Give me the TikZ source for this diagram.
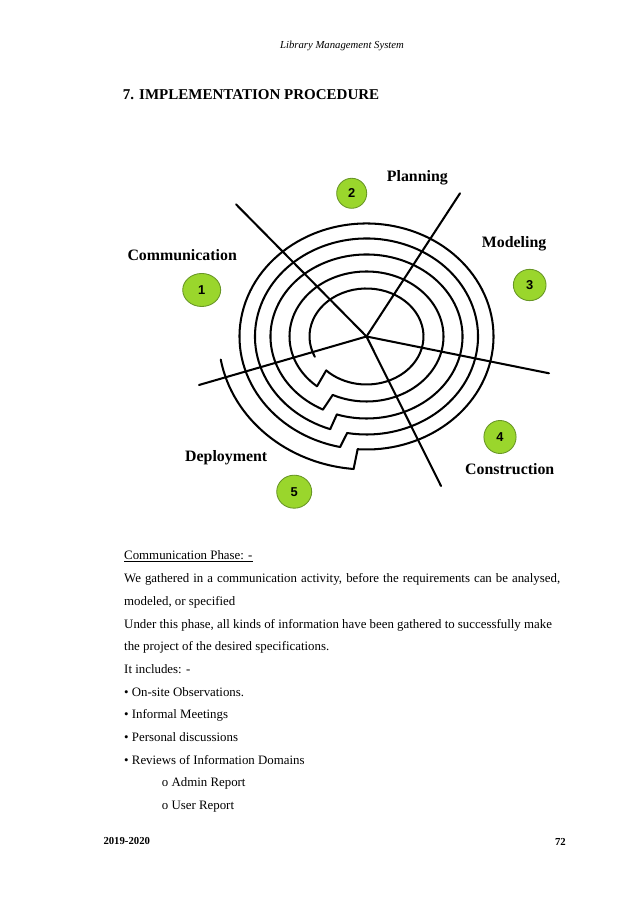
\documentclass[tikz,border=0pt]{standalone}
\usepackage{fontspec}
\setmainfont{Liberation Serif}
\newfontfamily\digitfont{Liberation Sans}
\usetikzlibrary{shapes.geometric}
\definecolor{phasegreen}{RGB}{154,214,44}
\definecolor{phaseedge}{RGB}{104,150,38}

\begin{document}
\begin{tikzpicture}[x=0.9326pt, y=0.9326pt,
    spiral/.style={line width=1.9pt, line cap=round},
    phase/.style={ellipse, draw=phaseedge, line width=0.8pt, fill=phasegreen, inner sep=0pt,
        font=\digitfont\bfseries\fontsize{12}{12}\selectfont},
    stage/.style={anchor=base west, inner sep=0pt, font=\bfseries\fontsize{14.8}{17}\selectfont},
    body/.style={anchor=base west, inner sep=0pt, font=\fontsize{12}{14}\selectfont}]
    \useasboundingbox (0,0) rectangle (638,903);
    \fill[white] (0,0) rectangle (638,903);

    % page head
    \node[anchor=base, inner sep=0pt, font=\itshape\fontsize{10}{12}\selectfont] (header) at (342,854) {Library Management System};
    \node[body, font=\bfseries\fontsize{14}{16}\selectfont] (title) at (122.7,803.7) {7. IMPLEMENTATION PROCEDURE};

    % spiral model
    \coordinate (hub) at (366.5,566.5);
    \foreach \n/\x/\y in {ul/236/698.7, ur/460/709.7, r/549/529.7, lr/441/417, l/199/518} {
        \coordinate (\n) at (\x,\y);
        \draw[spiral] (hub) -- (\n);
    }
    \foreach \i/\rx/\ry/\s/\e in {1/57/48/205/-135, 2/77/65/230/-116, 3/96/82/243/-108,
                                  4/111.5/98/251/-100, 5/127/113/258/-94, 6/148/133/265/190} {
        \draw[spiral] (hub) ++({\s}:{\rx} and {\ry}) coordinate (a\i)
            arc[start angle=\s, end angle=\e, x radius=\rx, y radius=\ry] coordinate (b\i);
    }
    \foreach \i/\j in {1/2, 2/3, 3/4, 4/5, 5/6} {
        \draw[spiral] (b\i) -- (a\j);
    }

    \node[phase, minimum width=35.4pt, minimum height=30.8pt] (p1) at (201.7,613) {1};
    \node[phase, minimum width=28pt, minimum height=28pt] (p2) at (351.7,709.7) {2};
    \node[phase, minimum width=30.5pt, minimum height=29.2pt] (p3) at (529.7,618) {3};
    \node[phase, minimum width=30pt, minimum height=30.8pt] (p4) at (500,466) {4};
    \node[phase, minimum width=32.6pt, minimum height=30.8pt] (p5) at (294.2,411.3) {5};

    \node[stage] (communication) at (127.3,642.3) {Communication};
    \node[stage] (planning) at (386.7,721.3) {Planning};
    \node[stage] (modeling) at (481.7,655.7) {Modeling};
    \node[stage] (construction) at (465,428) {Construction};
    \node[stage] (deployment) at (185,441.3) {Deployment};

    % text below
    \node[body] (t1) at (124,343) {\underline{Communication Phase: -}};
    \node[body] (t2) at (124,320.3) {\makebox[406.6pt][s]{We gathered in a communication activity, before the requirements can be analysed,}};
    \node[body] (t3) at (124,297.6) {modeled, or specified};
    \node[body] (t4) at (124,274.9) {Under this phase, all kinds of information have been gathered to successfully make};
    \node[body] (t5) at (124,252.2) {the project of the desired specifications.};
    \node[body] (t6) at (124,229.5) {It includes: -};
    \node[body] (t7) at (124,206.8) {\textbullet\ On-site Observations.};
    \node[body] (t8) at (124,184.1) {\textbullet\ Informal Meetings};
    \node[body] (t9) at (124,161.4) {\textbullet\ Personal discussions};
    \node[body] (t10) at (124,138.7) {\textbullet\ Reviews of Information Domains};
    \node[body] (t11) at (161.7,116) {o Admin Report};
    \node[body] (t12) at (161.7,93.3) {o User Report};

    % page foot
    \node[anchor=base west, inner sep=0pt, font=\bfseries\fontsize{10}{12}\selectfont] (year) at (103.3,58) {2019-2020};
    \node[anchor=base east, inner sep=0pt, font=\bfseries\fontsize{10}{12}\selectfont] (page) at (566,57) {72};
\end{tikzpicture}
\end{document}
